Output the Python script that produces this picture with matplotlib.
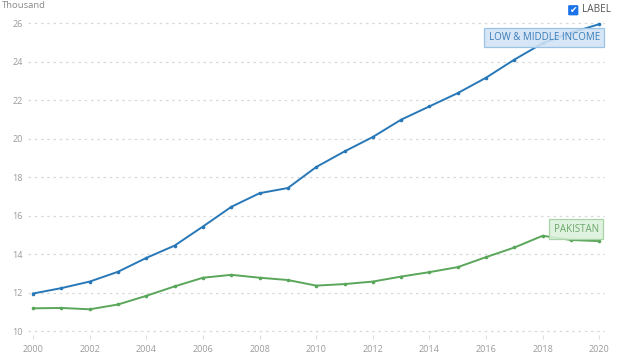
import matplotlib
matplotlib.use("Agg")
import matplotlib.pyplot as plt
from matplotlib.patches import FancyBboxPatch

years = list(range(2000, 2021))
low_middle = [11.95, 12.23, 12.57, 13.08, 13.80, 14.44, 15.43, 16.45, 17.16, 17.43,
              18.52, 19.33, 20.08, 20.98, 21.67, 22.36, 23.16, 24.10, 24.95, 25.50, 25.94]
pakistan = [11.18, 11.20, 11.13, 11.38, 11.83, 12.32, 12.77, 12.92, 12.77, 12.65,
            12.36, 12.44, 12.57, 12.83, 13.06, 13.32, 13.84, 14.34, 14.95, 14.73, 14.67]
y_ticks = [10, 12, 14, 16, 18, 20, 22, 24, 26]
x_ticks = list(range(2000, 2021, 2))
series_names = ["LOW & MIDDLE INCOME", "PAKISTAN"]

W, H = 617, 360
fig = plt.figure(figsize=(W / 100, H / 100), dpi=100)
plt.rcParams['font.family'] = ['Open Sans', 'DejaVu Sans']

left, right = 28 / W, 605 / W
ax = fig.add_axes([left, (H - 334.9) / H, right - left, (334.9 - 15.3) / H])
ax.set_xlim(1999.82, 2020.2)
ax.set_ylim(9.8, 26.4)

blue = "#2878b8"
green = "#5aa65a"
ax.plot(years, low_middle, color=blue, lw=1.4, marker='o', ms=1.6, mec=blue, mfc=blue, zorder=3)
ax.plot(years, pakistan, color=green, lw=1.4, marker='o', ms=1.6, mec=green, mfc=green, zorder=3)

for s in ax.spines.values():
    s.set_visible(False)
ax.set_yticks(y_ticks)
ax.set_yticklabels([str(v) for v in y_ticks])
ax.set_xticks(x_ticks)
ax.set_xticklabels([str(v) for v in x_ticks])
ax.tick_params(axis='y', length=0, labelsize=6.5, labelcolor="#9a9a9a", pad=4)
ax.tick_params(axis='x', length=3, width=0.8, color="#dddddd", labelsize=6.5, labelcolor="#9a9a9a", pad=4)
ax.grid(axis='y', color="#d8d8d8", lw=0.9, ls=(0, (2, 3)))
ax.set_axisbelow(True)

# series labels
ax.text(2018.06, 25.25, series_names[0], ha='center', va='center', fontsize=7,
        color="#3a7cb8",
        bbox=dict(boxstyle='square,pad=0.45', fc=(0.82, 0.89, 0.96, 0.88), ec="#9cc3e3", lw=0.9), zorder=4)
ax.text(2019.19, 15.3, series_names[1], ha='center', va='center', fontsize=7,
        color="#6aa86a",
        bbox=dict(boxstyle='square,pad=0.45', fc=(0.86, 0.94, 0.86, 0.88), ec="#a8d4a8", lw=0.9), zorder=4)

# unit label
fig.text(2 / W, 1 - 6 / H, "Thousand", ha='left', va='center', fontsize=6.8, color="#8a8a8a")

# checkbox legend
cb = FancyBboxPatch((568.5 / W, 1 - 15 / H), 9.5 / W, 9.5 / H, boxstyle='round,pad=0,rounding_size=0.002',
                    transform=fig.transFigure, fc="#1a73e8", ec="#1a73e8", lw=0.5)
fig.patches.append(cb)
fig.text(573.3 / W, 1 - 10.3 / H, "\u2714", ha='center', va='center', fontsize=6.5, color="white",
         family=['DejaVu Sans'])
fig.text(582 / W, 1 - 10 / H, "LABEL", ha='left', va='center', fontsize=7.2, color="#555555")

fig.savefig("out.png", dpi=100)
